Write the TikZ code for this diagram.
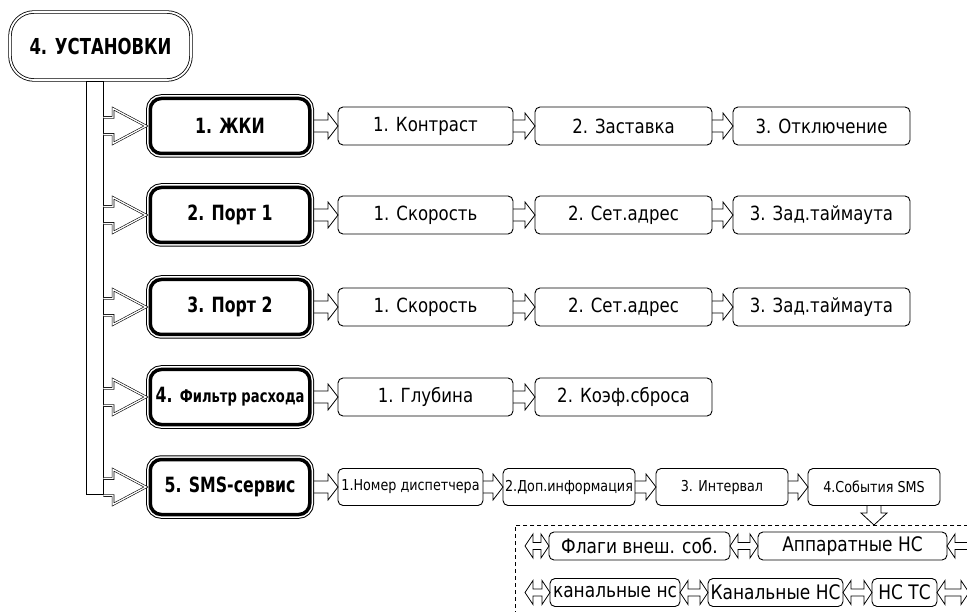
\documentclass[tikz,border=0pt]{standalone}
\usepackage{fontspec}
\setmainfont{DejaVu Sans}[FakeStretch=0.85,BoldFeatures={FakeStretch=0.75}]
\usetikzlibrary{positioning,calc}

% hollow arrows between nodes
\newcommand{\fatarrow}[6][]{%
  \draw[#1] let \p1=(#2), \p2=(#3) in
    (\x1,\y1+#4) -- (\x2-#5,\y1+#4) -- (\x2-#5,\y1+#6) -- (\x2,\y1)
    -- (\x2-#5,\y1-#6) -- (\x2-#5,\y1-#4) -- (\x1,\y1-#4);}
\newcommand{\dblarrow}[6][]{%
  \draw[#1] let \p1=(#2), \p2=(#3) in
    (\x1,\y1) -- (\x1+#5,\y1+#6) -- (\x1+#5,\y1+#4) -- (\x2-#5,\y1+#4)
    -- (\x2-#5,\y1+#6) -- (\x2,\y1) -- (\x2-#5,\y1-#6) -- (\x2-#5,\y1-#4)
    -- (\x1+#5,\y1-#4) -- (\x1+#5,\y1-#6) -- cycle;}
\newcommand{\dnarrow}[6][]{%
  \draw[#1] let \p1=(#2), \p2=(#3) in
    (\x1-#4,\y1) -- (\x1-#4,\y2+#5) -- (\x1-#6,\y2+#5) -- (\x1,\y2)
    -- (\x1+#6,\y2+#5) -- (\x1+#4,\y2+#5) -- (\x1+#4,\y1);}

\begin{document}
\begin{tikzpicture}[x=1pt,y=-1pt,
    topbox/.style={draw,double,line width=0.8pt,double distance=1.8pt,rounded corners=24pt,fill=white,
      minimum width=181pt,minimum height=68pt,inner sep=0pt,font=\bfseries\fontsize{22}{24}\selectfont},
    mainbox/.style={draw,fill=white,line width=3.5pt,rounded corners=11pt,
      preaction={draw,line width=8.5pt},preaction={draw=white,line width=6.5pt},
      minimum width=159.5pt,minimum height=55pt,inner sep=0pt,outer sep=4.25pt,
      font=\bfseries\fontsize{21}{23}\selectfont},
    subbox/.style={draw,line width=0.9pt,rounded corners=5pt,minimum height=38pt,inner sep=0pt,outer sep=0pt,
      font=\fontsize{19.5}{21}\selectfont},
    smsbox/.style={subbox,minimum height=37pt,font=\fontsize{15}{17}\selectfont},
    evbox/.style={subbox,minimum height=28pt,font=\fontsize{20}{22}\selectfont},
    barbox/.style={draw,fill=white,line width=0.9pt,minimum width=17pt,minimum height=413pt,inner sep=0pt},
    grpbox/.style={draw,dash pattern=on 4pt off 3pt,line width=0.8pt,inner sep=0pt},
    bigarr/.style={double,line width=0.6pt,double distance=1.3pt},
    smallarr/.style={line width=0.8pt}]
  \useasboundingbox (0,0) rectangle (967,612);
  \clip (0,0) rectangle (967,612);

  \node[barbox,anchor=north] (bar) at (94.5,81) {};
  \node[topbox] (set) at (100.5,46) {4. УСТАНОВКИ};

  \node[mainbox] (lcd) at (230,126) {1. ЖКИ};
  \node[mainbox] (p1) at (230,215) {2. Порт 1};
  \node[mainbox] (p2) at (230,307) {3. Порт 2};
  \node[mainbox] (flt) at (230,397) {4. {\fontsize{17.5}{19}\selectfont Фильтр расхода}};
  \node[mainbox] (sms) at (230,487) {5. SMS-сервис};

  \node[subbox,minimum width=175pt,right=24pt of lcd] (lcd1) {1. Контраст};
  \node[subbox,minimum width=177pt,right=22pt of lcd1] (lcd2) {2. Заставка};
  \node[subbox,minimum width=177pt,right=21pt of lcd2] (lcd3) {3. Отключение};

  \node[subbox,minimum width=175pt,right=24pt of p1] (p11) {1. Скорость};
  \node[subbox,minimum width=177pt,right=22pt of p11] (p12) {2. Сет.адрес};
  \node[subbox,minimum width=177pt,right=21pt of p12] (p13) {3. Зад.таймаута};

  \node[subbox,minimum width=175pt,right=24pt of p2] (p21) {1. Скорость};
  \node[subbox,minimum width=177pt,right=22pt of p21] (p22) {2. Сет.адрес};
  \node[subbox,minimum width=177pt,right=21pt of p22] (p23) {3. Зад.таймаута};

  \node[subbox,minimum width=175pt,right=24pt of flt] (flt1) {1. Глубина};
  \node[subbox,minimum width=177pt,right=22pt of flt1] (flt2) {2. Коэф.сброса};

  \node[smsbox,minimum width=145pt,right=24pt of sms] (sms1) {1.Номер диспетчера};
  \node[smsbox,minimum width=132pt,right=20pt of sms1] (sms2) {2.Доп.информация};
  \node[smsbox,minimum width=132pt,right=21pt of sms2] (sms3) {3. Интервал};
  \node[smsbox,minimum width=132pt,right=20pt of sms3] (ev) {4.События SMS};

  % events group
  \node[grpbox,anchor=north west,minimum width=520pt,minimum height=120pt] (grp) at (515,525) {};
  \node[evbox,minimum width=181pt] (flag) at (639.5,546) {Флаги внеш. соб.};
  \node[evbox,minimum width=189pt,right=28pt of flag] (hw) {Аппаратные НС};
  \node[evbox,minimum width=130pt] (chl) at (615,592.5) {канальные нс};
  \node[evbox,minimum width=135pt,right=28pt of chl] (chu) {Канальные НС};
  \node[evbox,minimum width=65pt,right=29pt of chu] (ntc) {НС ТС};
  \coordinate (inA) at (525,546);
  \coordinate (inB) at (525,592.5);
  \coordinate (outA) at (976,546);
  \coordinate (outB) at (969,592.5);

  \foreach \m in {lcd,p1,p2,flt,sms}{
    \fatarrow[bigarr]{bar.east |- \m.west}{\m.west}{8.5pt}{33pt}{17.5pt}}
  \foreach \a/\b in {lcd/lcd1,lcd1/lcd2,lcd2/lcd3,p1/p11,p11/p12,p12/p13,p2/p21,p21/p22,p22/p23,
      flt/flt1,flt1/flt2,sms/sms1,sms1/sms2,sms2/sms3,sms3/ev}{
    \fatarrow[smallarr]{\a.east}{\b.west}{6pt}{10pt}{13pt}}
  \dnarrow[smallarr]{ev.south}{ev.south |- grp.north}{7pt}{12pt}{13pt}
  \foreach \a/\b in {inA/flag.west,flag.east/hw.west,hw.east/outA,inB/chl.west,chl.east/chu.west,
      chu.east/ntc.west,ntc.east/outB}{
    \dblarrow[smallarr]{\a}{\b}{3.5pt}{8pt}{12pt}}
\end{tikzpicture}
\end{document}
